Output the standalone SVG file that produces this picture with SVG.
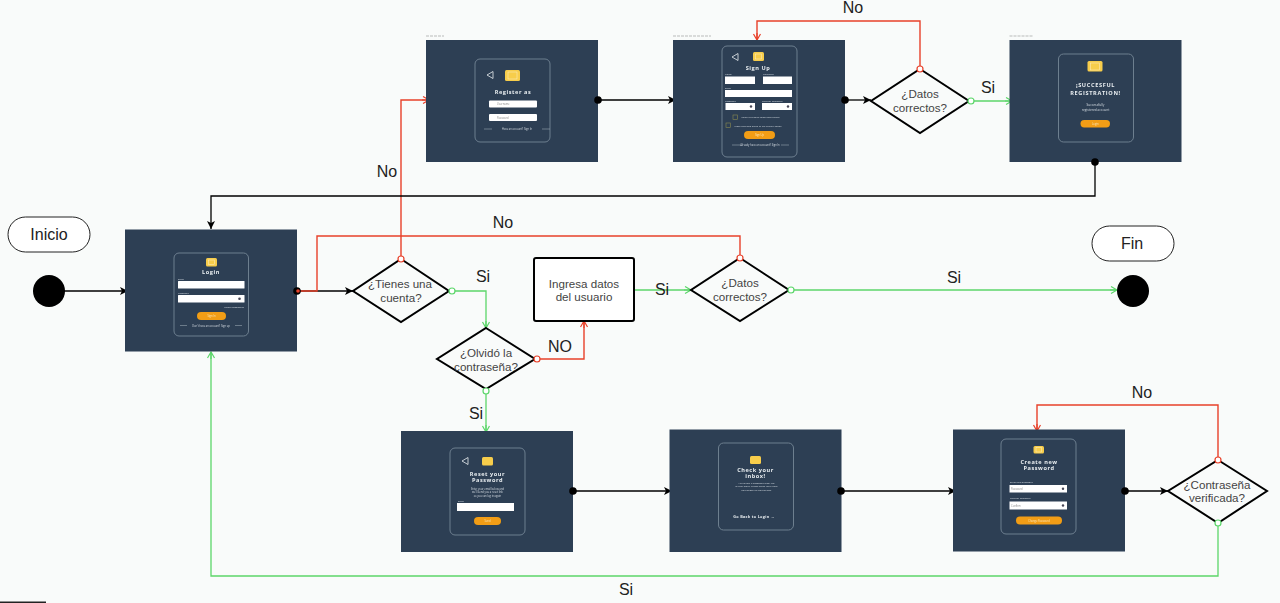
<svg xmlns="http://www.w3.org/2000/svg" width="1280" height="603" viewBox="0 0 1280 603">
<style>
text{font-family:"Liberation Sans",Arial,sans-serif}
.lb{font-size:16px;fill:#222;text-anchor:middle}
.nt{font-size:11.6px;fill:#444;text-anchor:middle}
.scr{fill:#2d3f54}
.cap{stroke:#777;stroke-width:.7;stroke-dasharray:3 1;opacity:.7}
.card{fill:none;stroke:#6d7f8f;stroke-width:1}
.logo{fill:#f7cd4c}
.logoi{fill:none;stroke:#fff;stroke-width:.5;opacity:.7}
.inp{fill:#fff}
.btn{fill:#f29d12}
.back{fill:none;stroke:#e8edf0;stroke-width:.8}
.tt{font-family:"Open Sans","Liberation Sans",sans-serif;fill:#e8edf0;font-weight:700;font-size:5.6px;letter-spacing:.55px;text-anchor:middle}
.ts{font-family:"Open Sans","Liberation Sans",sans-serif;fill:#d5dce2;font-size:2.6px;text-anchor:middle}
.tl{font-family:"Open Sans","Liberation Sans",sans-serif;fill:#d5dce2;font-size:2.4px}
.tb{font-family:"Open Sans","Liberation Sans",sans-serif;fill:#fbe7c0;font-size:2.6px;text-anchor:middle}
.tp{font-family:"Open Sans","Liberation Sans",sans-serif;fill:#888;font-size:2.6px}
.rule{stroke:#aab6c0;stroke-width:.5}
.eye{fill:#445}
.chk{fill:none;stroke:#8a8a50;stroke-width:.6}
.dia{fill:#f9fbfa;stroke:#000;stroke-width:2;stroke-linejoin:miter}
.pill{fill:#fff;stroke:#222;stroke-width:1}
.k{fill:none;stroke:#000;stroke-width:1.3;marker-end:url(#ak)}
.r{fill:none;stroke:#e8412a;stroke-width:1.4}
.ra{marker-end:url(#ar)}
.g{fill:none;stroke:#5cd66a;stroke-width:1.3;marker-end:url(#ag)}
.dk{fill:#000}
.or{fill:#fff;stroke:#e8412a;stroke-width:1.2}
.og{fill:#fff;stroke:#5cd66a;stroke-width:1.2}
</style>
<defs>
<marker id="ak" markerWidth="10" markerHeight="10" refX="8" refY="4" orient="auto" markerUnits="userSpaceOnUse"><path d="M0 0L8 4L0 8L2 4Z" fill="#000"/></marker>
<marker id="ar" markerWidth="10" markerHeight="10" refX="7" refY="4" orient="auto" markerUnits="userSpaceOnUse"><path d="M1 .5L7 4L1 7.5M0 4H7" fill="none" stroke="#e8412a" stroke-width="1.2"/></marker>
<marker id="ag" markerWidth="10" markerHeight="10" refX="7" refY="4" orient="auto" markerUnits="userSpaceOnUse"><path d="M1 .5L7 4L1 7.5M0 4H7" fill="none" stroke="#5cd66a" stroke-width="1.2"/></marker>
<filter id="soft" x="-5%" y="-5%" width="110%" height="110%"><feGaussianBlur stdDeviation="0.3"/></filter>
</defs>
<rect width="1280" height="603" fill="#f9fbfa"/>
<rect x="0" y="601.5" width="46" height="1.5" fill="#222"/>

<g id="connectors">
<path class="k" d="M49 291H128"/>
<path class="k" d="M297 291H353"/>
<path class="r" d="M297 291H317V236H740V258"/>
<path class="r ra" d="M401 259V100H429"/>
<path class="g" d="M452 291H486V328"/>
<path class="r ra" d="M537 359H584V321"/>
<path class="g" d="M486 391V432"/>
<path class="g" d="M634 290H691"/>
<path class="g" d="M791 290H1117"/>
<path class="k" d="M598 100H676"/>
<path class="k" d="M845 100H871"/>
<path class="r ra" d="M920 69V21H757V40"/>
<path class="g" d="M971 101H1012"/>
<path class="k" d="M1095 162V196H211V229"/>
<path class="k" d="M573 491H672"/>
<path class="k" d="M841 491H956"/>
<path class="k" d="M1125 491H1168"/>
<path class="r ra" d="M1218 460V405H1037V431"/>
<path class="g" d="M1218 523V576H211V352"/>
</g>

<g id="screen-register" transform="translate(426 40)">
<rect class="scr" width="172" height="122"/>
<path class="cap" d="M0-4H18"/>
<g filter="url(#soft)">
<rect class="card" x="49" y="19" width="75" height="83" rx="5"/>
<path class="back" d="M61 35L67 31.500V38.500Z"/>
<rect class="logo" x="79" y="30" width="15" height="11" rx="1.500"/><rect class="logoi" x="82" y="32" width="9" height="7"/>
<text class="tt" x="87" y="54">Register as</text>
<rect class="inp" x="63" y="60.500" width="48" height="7" rx="1"/><text class="tp" x="71" y="65">Username</text>
<rect class="inp" x="63" y="74" width="48" height="7" rx="1"/><text class="tp" x="71" y="78.500">Password</text>
<path class="rule" d="M58 89H66M116 89H124"/>
<text class="ts" x="91" y="90">Have an account? Sign In</text>
</g>
</g>

<g id="screen-signup" transform="translate(673 40)">
<rect class="scr" width="172" height="122"/>
<path class="cap" d="M0-4H38"/>
<g filter="url(#soft)">
<rect class="card" x="49" y="6" width="75" height="111" rx="5"/>
<path class="back" d="M59 17L65 13.500V20.500Z"/>
<rect class="logo" x="80" y="12" width="11" height="9" rx="1.500"/><rect class="logoi" x="82.500" y="14" width="6" height="5"/>
<text class="tt" x="85" y="30">Sign Up</text>
<text class="tl" x="52" y="35">Name</text><text class="tl" x="90" y="35">Lastname</text>
<rect class="inp" x="52" y="36.500" width="30" height="7.500"/><rect class="inp" x="90" y="36.500" width="29" height="7.500"/>
<text class="tl" x="52" y="48.500">Email</text>
<rect class="inp" x="52" y="50" width="67" height="7"/>
<text class="tl" x="52" y="61.500">Password</text><text class="tl" x="89" y="61.500">Confirm Password</text>
<rect class="inp" x="52.500" y="63" width="29.500" height="7"/><rect class="inp" x="89" y="63" width="30" height="7"/>
<circle class="eye" cx="78" cy="66.500" r="1.200"/><circle class="eye" cx="115" cy="66.500" r="1.200"/>
<rect class="chk" x="60" y="75" width="4.500" height="4.500"/><text class="tl" x="68" y="78">I want to receive news from Lorem</text>
<rect class="chk" x="53" y="83" width="4.500" height="4.500"/><text class="tl" x="61" y="86.500">I have read and agree to the Privacy Terms</text>
<rect class="btn" x="71" y="91" width="31" height="8" rx="4"/><text class="tb" x="86.500" y="96">Sign Up</text>
<path class="rule" d="M59 105H67M108 105H116"/>
<text class="ts" x="87" y="106">Already have an account? Sign In</text>
</g>
</g>

<g id="screen-success" transform="translate(1009.500 40)">
<rect class="scr" width="172" height="122"/>
<path class="cap" d="M0-4H24"/>
<g filter="url(#soft)">
<rect class="card" x="49" y="14" width="75" height="88" rx="5"/>
<rect class="logo" x="78" y="21" width="15" height="10.500" rx="1.500"/><rect class="logoi" x="81" y="23" width="9" height="7"/>
<text class="tt" x="86" y="47" style="letter-spacing:.65px">¡SUCCESFUL</text>
<text class="tt" x="86" y="54.500" style="letter-spacing:.65px">REGISTRATION!</text>
<text class="ts" x="86" y="66" style="font-size:3.2px">Successfully</text>
<text class="ts" x="86" y="70.500" style="font-size:3.2px">registered account</text>
<rect class="btn" x="71" y="80" width="29.500" height="7.500" rx="3.700"/><text class="tb" x="85.800" y="84.800">Login</text>
</g>
</g>

<g id="screen-login" transform="translate(125 229.500)">
<rect class="scr" width="172" height="122"/>
<g filter="url(#soft)">
<rect class="card" x="49" y="23.500" width="74.500" height="83" rx="5"/>
<rect class="logo" x="81" y="28.500" width="11" height="8.500" rx="1.500"/><rect class="logoi" x="83.500" y="30.500" width="6" height="4.500"/>
<text class="tt" x="86" y="44">Login</text>
<text class="tl" x="53" y="50">Email</text>
<rect class="inp" x="53" y="51.500" width="66.500" height="7.500" rx=".5"/>
<text class="tl" x="53" y="64">Password</text>
<rect class="inp" x="53" y="65.500" width="66.500" height="7.500" rx=".5"/><circle class="eye" cx="114.500" cy="69.200" r="1.300"/>
<text class="tl" x="119" y="78" text-anchor="end">Forgot password?</text>
<rect class="btn" x="72" y="82.500" width="29" height="8" rx="4"/><text class="tb" x="86.500" y="87.500">Sign In</text>
<path class="rule" d="M55 96H62M110 96H117"/>
<text class="ts" x="86" y="97">Don't have an account? Sign up</text>
</g>
</g>

<g id="screen-reset" transform="translate(401 431)">
<rect class="scr" width="172" height="121"/>
<g filter="url(#soft)">
<rect class="card" x="49" y="17" width="75" height="87" rx="5"/>
<path class="back" d="M61 30L67 26.500V33.500Z"/>
<rect class="logo" x="81" y="26" width="11" height="8.500" rx="1.500"/>
<text class="tt" x="86.500" y="45">Reset your</text>
<text class="tt" x="86.500" y="51">Password</text>
<text class="ts" x="86.500" y="58.500">Enter your email below and</text>
<text class="ts" x="86.500" y="62">we'll send you a reset link</text>
<text class="ts" x="86.500" y="65.500">so you can log in again</text>
<text class="tl" x="57" y="71">Email</text>
<rect class="inp" x="56" y="72" width="57" height="8"/>
<rect class="btn" x="73" y="86" width="27" height="8" rx="4"/><text class="tb" x="86.500" y="91">Send</text>
</g>
</g>

<g id="screen-inbox" transform="translate(669.500 429.500)">
<rect class="scr" width="172" height="122.500"/>
<g filter="url(#soft)">
<rect class="card" x="49" y="13.500" width="75" height="87" rx="5"/>
<rect class="logo" x="80.500" y="26.500" width="11" height="8" rx="1.500"/>
<text class="tt" x="86" y="42.500">Check your</text>
<text class="tt" x="86" y="48.500">inbox!</text>
<text class="ts" x="87" y="54.500" style="font-size:2.4px">We've sent a password reset link</text>
<text class="ts" x="87" y="57.800" style="font-size:2.4px">to your email. Please check your inbox</text>
<text class="ts" x="87" y="61" style="font-size:2.4px">and follow the instructions.</text>
<text class="tt" x="84.500" y="88.500" style="font-size:3.800px;letter-spacing:.3px">Go Back to Login →</text>
</g>
</g>

<g id="screen-newpass" transform="translate(953 429.500)">
<rect class="scr" width="172" height="122"/>
<g filter="url(#soft)">
<rect class="card" x="48" y="9.500" width="75" height="95" rx="5"/>
<rect class="logo" x="80.500" y="16.500" width="10.500" height="7.500" rx="1.500"/><rect class="logoi" x="83" y="18" width="5.500" height="4.500"/>
<text class="tt" x="86" y="34">Create new</text>
<text class="tt" x="86" y="40">Password</text>
<text class="tl" x="57" y="53">Enter new password</text>
<rect class="inp" x="56.500" y="55.500" width="57.500" height="7.500"/><circle class="eye" cx="110" cy="59.300" r="1.200"/><text class="tp" x="58" y="60.300">Password</text>
<text class="tl" x="57" y="69">Confirm Password</text>
<rect class="inp" x="56.500" y="72" width="57.500" height="8"/><circle class="eye" cx="110" cy="76" r="1.200"/><text class="tp" x="58" y="77">Confirm</text>
<rect class="btn" x="63" y="87" width="46" height="8" rx="4"/><text class="tb" x="86" y="92">Change Password</text>
</g>
</g>

<g id="inicio"><rect class="pill" x="8" y="217" width="82" height="35" rx="17.500"/><text class="lb" x="49" y="240">Inicio</text></g>
<g id="start"><circle class="dk" cx="49" cy="291" r="16"/></g>
<g id="fin"><rect class="pill" x="1092" y="226" width="82" height="35" rx="17.500"/><text class="lb" x="1132" y="249">Fin</text></g>
<g id="end"><circle class="dk" cx="1133" cy="291" r="16"/></g>

<g id="d-cuenta"><path class="dia" d="M401 259L449 291L401 322L353 291Z"/><text class="nt" x="400" y="288">¿Tienes una</text><text class="nt" x="401" y="302">cuenta?</text></g>
<g id="d-olvido"><path class="dia" d="M486 328L535 359L486 389L437 359Z"/><text class="nt" x="486" y="357">¿Olvidó la</text><text class="nt" x="486" y="371">contraseña?</text></g>
<g id="d-datos-login"><path class="dia" d="M740 258L789 290L740 321L691 290Z"/><text class="nt" x="740" y="287">¿Datos</text><text class="nt" x="740" y="301">correctos?</text></g>
<g id="d-datos-signup"><path class="dia" d="M920 69L969 101L920 133L871 101Z"/><text class="nt" x="920" y="98">¿Datos</text><text class="nt" x="920" y="112">correctos?</text></g>
<g id="d-pass"><path class="dia" d="M1218 460L1267 491L1218 523L1168 491Z"/><text class="nt" x="1217" y="489">¿Contraseña</text><text class="nt" x="1217" y="502">verificada?</text></g>
<g id="ingresa"><rect x="534" y="258" width="100" height="63" rx="2" fill="#fff" stroke="#000" stroke-width="2"/><text class="nt" x="584" y="288">Ingresa datos</text><text class="nt" x="584" y="301">del usuario</text></g>

<g id="ports">
<circle class="dk" cx="598" cy="100" r="3.800"/><circle class="dk" cx="845" cy="100" r="3.800"/><circle class="dk" cx="1095" cy="162" r="3.800"/>
<circle class="dk" cx="297" cy="291" r="3.800"/><circle fill="#e8412a" cx="298" cy="291" r="1.800"/>
<circle class="dk" cx="573" cy="491" r="3.800"/><circle class="dk" cx="841" cy="491" r="3.800"/><circle class="dk" cx="1125" cy="491" r="3.800"/>
<circle class="or" cx="401" cy="259" r="3"/><circle class="or" cx="740" cy="258" r="3"/><circle class="or" cx="920" cy="69" r="3"/><circle class="or" cx="1218" cy="460" r="3"/><circle class="or" cx="537" cy="359" r="3"/>
<circle class="og" cx="452" cy="291" r="3"/><circle class="og" cx="486" cy="391" r="3"/><circle class="og" cx="791" cy="290" r="3"/><circle class="og" cx="971" cy="101" r="3"/><circle class="og" cx="1218" cy="523" r="3"/>
</g>

<g id="labels">
<text class="lb" x="853" y="13">No</text>
<text class="lb" x="988" y="93">Si</text>
<text class="lb" x="387" y="177">No</text>
<text class="lb" x="503" y="228">No</text>
<text class="lb" x="483" y="282">Si</text>
<text class="lb" x="662" y="295">Si</text>
<text class="lb" x="560" y="352">NO</text>
<text class="lb" x="476" y="419">Si</text>
<text class="lb" x="954" y="283">Si</text>
<text class="lb" x="1142" y="398">No</text>
<text class="lb" x="626" y="595">Si</text>
</g>
</svg>
